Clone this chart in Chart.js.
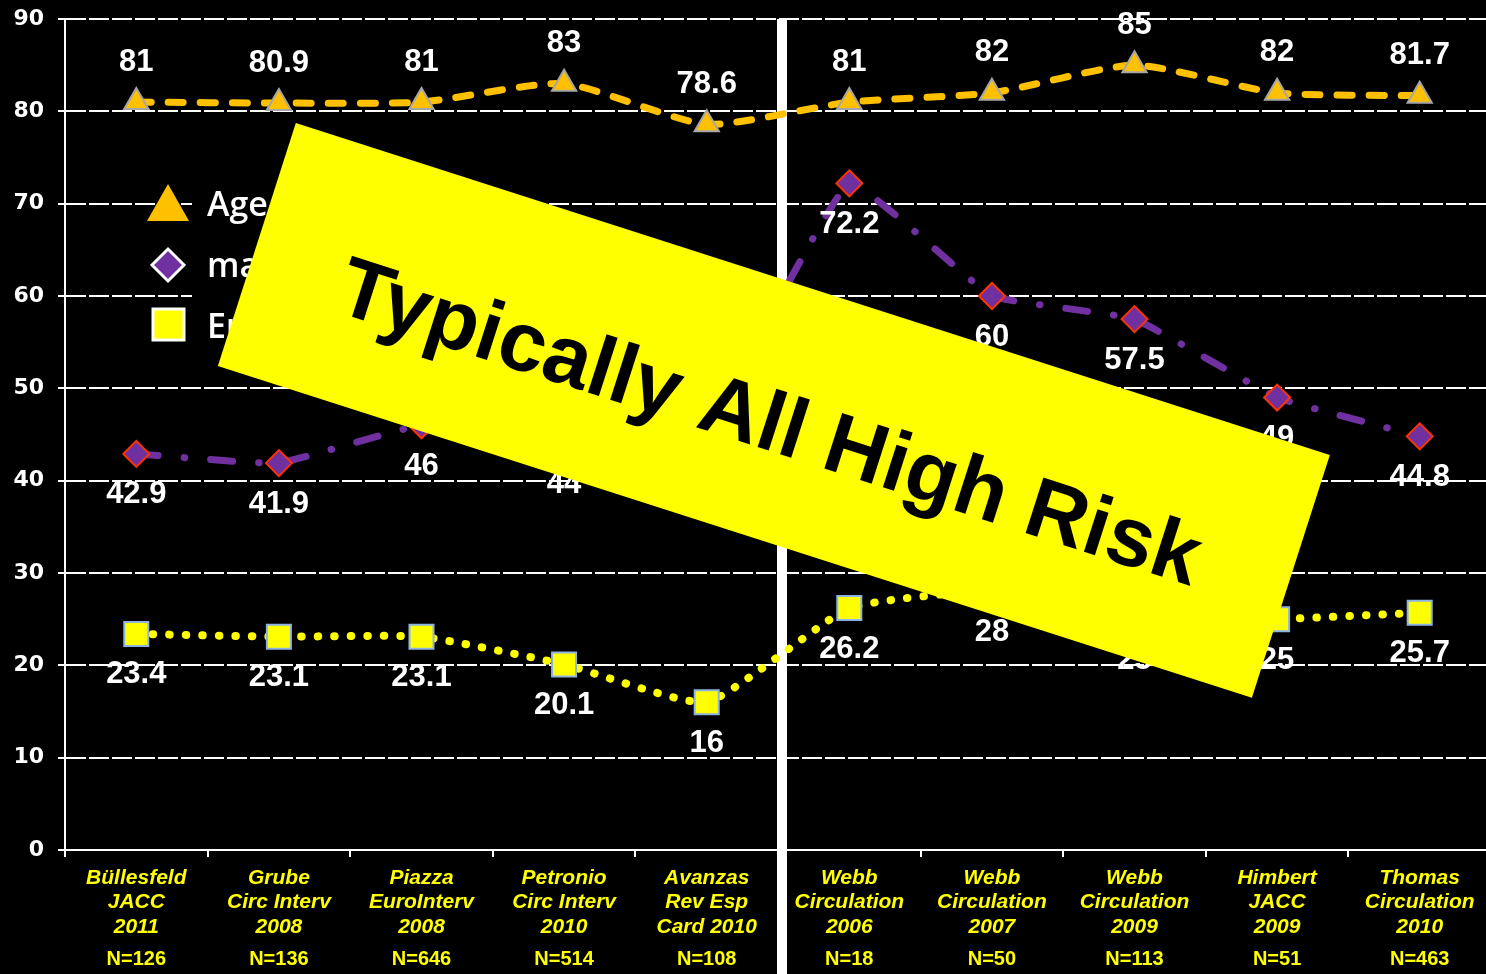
<!DOCTYPE html>
<html>
<head>
<meta charset="utf-8">
<title>TAVI series - high risk</title>
<script src="https://cdn.jsdelivr.net/npm/chart.js@4/dist/chart.umd.min.js"></script>
<style>
    html, body { margin: 0; padding: 0; background: #000; overflow: hidden; }
    #wrap { width: 1491px; height: 974px; }
</style>
</head>
<body>
<div id="wrap"><canvas id="chart" width="1491" height="974"></canvas></div>
<script>
// données
const studies = [
    ['Büllesfeld', 'JACC', '2011'],
    ['Grube', 'Circ Interv', '2008'],
    ['Piazza', 'EuroInterv', '2008'],
    ['Petronio', 'Circ Interv', '2010'],
    ['Avanzas', 'Rev Esp', 'Card 2010'],
    ['Webb', 'Circulation', '2006'],
    ['Webb', 'Circulation', '2007'],
    ['Webb', 'Circulation', '2009'],
    ['Himbert', 'JACC', '2009'],
    ['Thomas', 'Circulation', '2010']
];
const patients = [126, 136, 646, 514, 108, 18, 50, 113, 51, 463];
const age = [81, 80.9, 81, 83, 78.6, 81, 82, 85, 82, 81.7];
const male = [42.9, 41.9, 46, 44, 46, 72.2, 60, 57.5, 49, 44.8];
const euroscore = [23.4, 23.1, 23.1, 20.1, 16, 26.2, 28, 25, 25, 25.7];
const yTicks = [0, 10, 20, 30, 40, 50, 60, 70, 80, 90];
const seriesNames = ['Age', 'male', 'EuroSCORE'];
const bannerText = 'Typically All High Risk';

const ORANGE = '#FFC000';
const PURPLE = '#7030A0';
const YELLOW = '#FFFF00';

// ligne verticale blanche entre les deux groupes
const separatorPlugin = {
    id: 'separator',
    beforeDatasetsDraw(chart) {
        const ctx = chart.ctx;
        const xs = chart.scales.x;
        const x = (xs.getPixelForValue(4) + xs.getPixelForValue(5)) / 2 + 4;
        ctx.save();
        ctx.fillStyle = '#fff';
        ctx.fillRect(x - 5, chart.chartArea.top, 10, chart.height - chart.chartArea.top);
        ctx.restore();
    }
};

const overlayPlugin = {
    id: 'overlay',
    afterDatasetsDraw(chart) {
        const ctx = chart.ctx;
        const xs = chart.scales.x;

        // valeurs au-dessus / en dessous des points
        ctx.save();
        ctx.font = 'bold 31px "Liberation Sans", Arial, sans-serif';
        ctx.fillStyle = '#fff';
        ctx.textAlign = 'center';
        ctx.textBaseline = 'middle';
        chart.data.datasets.forEach((ds, i) => {
            const meta = chart.getDatasetMeta(i);
            meta.data.forEach((pt, j) => {
                const dy = i === 0 ? -40 : 41;
                ctx.fillText(String(ds.data[j]), pt.x, pt.y + dy);
            });
        });
        ctx.restore();

        // étiquettes de l'axe x
        ctx.save();
        ctx.fillStyle = YELLOW;
        ctx.textAlign = 'center';
        ctx.textBaseline = 'middle';
        studies.forEach((lines, j) => {
            const x = xs.getPixelForValue(j);
            ctx.font = 'italic bold 21px "Liberation Sans", Arial, sans-serif';
            lines.forEach((line, k) => {
                ctx.fillText(line, x, 878 + k * 24.5);
            });
            ctx.font = 'bold 20px "Liberation Sans", Arial, sans-serif';
            ctx.fillText('N=' + patients[j], x, 959);
        });
        ctx.restore();

        // légende
        ctx.save();
        ctx.fillStyle = '#000';
        ctx.fillRect(192, 168, 300, 185);

        ctx.fillStyle = ORANGE;
        ctx.beginPath();
        ctx.moveTo(168, 184);
        ctx.lineTo(189, 221);
        ctx.lineTo(147, 221);
        ctx.closePath();
        ctx.fill();

        ctx.lineWidth = 3;
        ctx.strokeStyle = '#fff';
        ctx.fillStyle = PURPLE;
        ctx.beginPath();
        ctx.moveTo(168, 249);
        ctx.lineTo(184, 265);
        ctx.lineTo(168, 281);
        ctx.lineTo(152, 265);
        ctx.closePath();
        ctx.fill();
        ctx.stroke();

        ctx.fillStyle = YELLOW;
        ctx.fillRect(153, 309, 31, 31);
        ctx.strokeRect(153, 309, 31, 31);

        ctx.fillStyle = '#fff';
        ctx.font = '600 34px "Open Sans", "Liberation Sans", sans-serif';
        ctx.textAlign = 'left';
        ctx.textBaseline = 'middle';
        seriesNames.forEach((name, k) => {
            ctx.fillText(name, 207, 206 + k * 61);
        });
        ctx.restore();
    },
    afterDraw(chart) {
        // bandeau jaune incliné
        const ctx = chart.ctx;
        ctx.save();
        ctx.translate(774, 410);
        ctx.rotate(17.8 * Math.PI / 180);
        ctx.fillStyle = YELLOW;
        ctx.fillRect(-543, -127, 1086, 255);
        ctx.fillStyle = '#000';
        let size = 80;
        ctx.font = 'bold ' + size + 'px "Liberation Sans", Arial, sans-serif';
        size = size * 900 / ctx.measureText(bannerText).width;
        ctx.font = 'bold ' + size.toFixed(1) + 'px "Liberation Sans", Arial, sans-serif';
        ctx.textAlign = 'center';
        ctx.textBaseline = 'middle';
        ctx.fillText(bannerText, 0, 17);
        ctx.restore();
    }
};

new Chart(document.getElementById('chart'), {
    type: 'line',
    data: {
        labels: studies.map(s => s.join(' ')),
        datasets: [
            {
                label: seriesNames[0],
                data: age,
                borderColor: ORANGE,
                borderWidth: 7,
                borderDash: [15, 17],
                borderCapStyle: 'round',
                pointStyle: 'triangle',
                pointRadius: 14,
                pointBackgroundColor: ORANGE,
                pointBorderColor: '#A6A6A6',
                pointBorderWidth: 2,
                tension: 0.2
            },
            {
                label: seriesNames[1],
                data: male,
                borderColor: PURPLE,
                borderWidth: 7,
                borderDash: [22, 26, 0.5, 26],
                borderCapStyle: 'round',
                pointStyle: 'rectRot',
                pointRadius: 13,
                pointBackgroundColor: PURPLE,
                pointBorderColor: '#FF3300',
                pointBorderWidth: 2,
                tension: 0.1
            },
            {
                label: seriesNames[2],
                data: euroscore,
                borderColor: YELLOW,
                borderWidth: 8,
                borderDash: [0.5, 16],
                borderCapStyle: 'round',
                pointStyle: 'rect',
                pointRadius: 17,
                pointBackgroundColor: YELLOW,
                pointBorderColor: '#8DB3E2',
                pointBorderWidth: 2,
                tension: 0.15
            }
        ]
    },
    options: {
        responsive: false,
        animation: false,
        devicePixelRatio: 1,
        layout: { autoPadding: false, padding: { top: 19, right: 0, bottom: 0, left: 0 } },
        plugins: {
            legend: { display: false },
            tooltip: { enabled: false }
        },
        scales: {
            x: {
                offset: true,
                grid: {
                    display: true,
                    drawOnChartArea: false,
                    drawTicks: true,
                    tickLength: 7,
                    color: '#fff',
                    lineWidth: 2,
                    offset: true
                },
                border: { display: true, color: '#fff', width: 2 },
                ticks: { display: false },
                afterFit(s) {
                    s.height = 124;
                    s.paddingLeft = 0;
                    s.paddingRight = 0;
                }
            },
            y: {
                min: 0,
                max: 90,
                afterBuildTicks(s) {
                    s.ticks = yTicks.map(v => ({ value: v }));
                },
                ticks: {
                    color: '#fff',
                    padding: 14,
                    font: { family: '"DejaVu Sans", sans-serif', weight: 'bold', size: 22 }
                },
                grid: { color: '#fff', lineWidth: 2, tickLength: 7 },
                border: { display: true, color: '#fff', width: 2, dash: [20, 3] },
                afterFit(s) {
                    s.width = 65;
                    s.paddingTop = 0;
                    s.paddingBottom = 0;
                }
            }
        }
    },
    plugins: [separatorPlugin, overlayPlugin]
});
</script>
</body>
</html>
